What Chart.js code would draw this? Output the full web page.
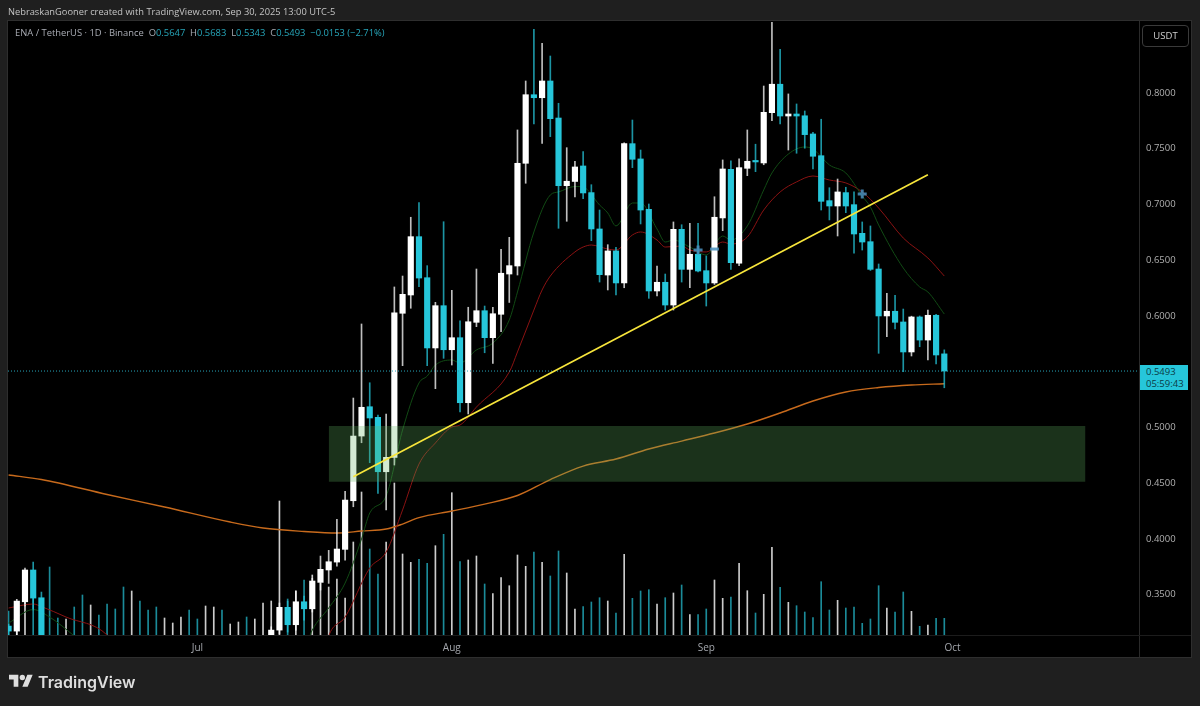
<!DOCTYPE html>
<html>
<head>
<meta charset="utf-8">
<script src="https://cdn.jsdelivr.net/npm/chart.js@4"></script>
<style>
  html, body { margin: 0; padding: 0; width: 1200px; height: 706px; overflow: hidden; background: #1f1f1f; }
  body { font-family: "Open Sans", Roboto, sans-serif; }
  #frame { position: absolute; left: 8px; top: 21px; width: 1183px; height: 636px; background: #000; outline: 1px solid #2e2e2e; }
  #axisLine { position: absolute; left: 1139px; top: 21px; width: 1px; height: 636px; background: #2a2a2a; }
  #timeLine { position: absolute; left: 8px; top: 635px; width: 1183px; height: 1px; background: #1c1c1c; }
  canvas { position: absolute; left: 0; top: 0; }
  .txt { position: absolute; white-space: pre; }
  #credit { left: 8px; top: 4px; font-size: 9.3px; line-height: 16px; color: #c4c4c4; }
  #legend { left: 15px; top: 26px; font-size: 9.4px; line-height: 14px; color: #a9acb4; }
  #legend b { font-weight: 400; color: #26a6ba; }
  #unit { left: 1142px; top: 25px; width: 45px; height: 20px; border: 1px solid #3a3a3a; border-radius: 4px; font-size: 9.5px; line-height: 20px; color: #d0d0d0; text-align: center; }
  #lastPrice { left: 1140px; top: 365px; width: 48px; height: 25px; background: #26c6da; color: #0b3a44; font-size: 9.5px; line-height: 11.5px; padding: 1px 0 0 6px; box-sizing: border-box; }
  #logo { position: absolute; left: 9px; top: 672px; }
  #brand { left: 38px; top: 671px; font-family: Inter, Roboto, sans-serif; font-size: 16px; font-weight: 600; line-height: 22px; color: #dedede; }
</style>
</head>
<body>
<div id="frame"></div>
<canvas id="chart" width="1200" height="706" style="width:1200px;height:706px"></canvas>
<div id="axisLine"></div>
<div id="timeLine"></div>
<div class="txt" id="credit">NebraskanGooner created with TradingView.com, Sep 30, 2025 13:00 UTC-5</div>
<div class="txt" id="legend">ENA / TetherUS · 1D · Binance  O<b>0.5647</b>  H<b>0.5683</b>  L<b>0.5343</b>  C<b>0.5493</b>  <b>−0.0153 (−2.71%)</b></div>
<div class="txt" id="unit">USDT</div>
<div class="txt" id="lastPrice">0.5493
05:59:43</div>
<svg id="logo" width="24" height="19" viewBox="0 0 36 28" fill="#dedede"><path d="M14 22H7V11H0V4h14v18zM28 22h-8l7.5-18h8L28 22z"/><circle cx="20" cy="8" r="4"/></svg>
<div class="txt" id="brand">TradingView</div>

<script>
// days are counted from Jul 1 (day 0), the first candle is Jun 8
const firstDay = -23;
const offChart = Array(27).fill(null); // Jun 13 - Jul 9 sits below the visible price range

const opens = [
  0.3206, 0.3161, 0.3424, 0.3709, 0.3460, ...offChart,
  0.3100, 0.3170, 0.3374, 0.3218, 0.3424, 0.3361, 0.3598, 0.3709, 0.3780, 0.3894,
  0.4330, 0.4910, 0.5173, 0.5078, 0.4590, 0.4719, 0.6011, 0.6175, 0.6698, 0.6330,
  0.5700, 0.6079, 0.5684, 0.5792, 0.5209, 0.5930, 0.6034, 0.5792, 0.6002, 0.6363,
  0.6435, 0.7356, 0.7971, 0.7944, 0.8094, 0.7762, 0.7155, 0.7193, 0.7332, 0.7093,
  0.6767, 0.6354, 0.6570, 0.6283, 0.7532, 0.7395, 0.6943, 0.6211, 0.6289, 0.6085,
  0.6764, 0.6405, 0.6540, 0.6393, 0.6283, 0.6866, 0.7302, 0.6460, 0.7311, 0.7374,
  0.7359, 0.7810, 0.8065, 0.7780, 0.7798, 0.7782, 0.7619, 0.7424, 0.7021, 0.6973,
  0.7093, 0.6985, 0.6728, 0.6653, 0.6408, 0.5987, 0.6029, 0.5933, 0.5664, 0.5978,
  0.5771, 0.5993, 0.5647
];
const highs = [
  0.3224, 0.3446, 0.3726, 0.3780, 0.3511, ...offChart,
  0.3200, 0.3413, 0.3430, 0.3523, 0.3475, 0.3634, 0.3834, 0.3885, 0.4163, 0.4414,
  0.5251, 0.5915, 0.5388, 0.5099, 0.5108, 0.6247, 0.6345, 0.6872, 0.7003, 0.6438,
  0.6109, 0.6832, 0.6217, 0.5944, 0.6065, 0.6408, 0.6076, 0.6065, 0.6585, 0.6692,
  0.7655, 0.8094, 0.8558, 0.8432, 0.8318, 0.7894, 0.7496, 0.7374, 0.7460, 0.7164,
  0.6937, 0.6626, 0.6603, 0.7540, 0.7744, 0.7475, 0.6991, 0.6435, 0.6363, 0.6830,
  0.6805, 0.6818, 0.6818, 0.6525, 0.7056, 0.7386, 0.7377, 0.7395, 0.7655, 0.7527,
  0.8049, 0.8750, 0.8379, 0.7978, 0.7888, 0.7825, 0.7634, 0.7751, 0.7137, 0.7215,
  0.7141, 0.7099, 0.6830, 0.6794, 0.6453, 0.6190, 0.6172, 0.6049, 0.5985, 0.5987,
  0.6040, 0.6002, 0.5683
];
const lows = [
  0.3120, 0.3117, 0.3386, 0.3350, 0.3000, ...offChart,
  0.3050, 0.3135, 0.3152, 0.3170, 0.3260, 0.3332, 0.3529, 0.3589, 0.3744, 0.3798,
  0.4276, 0.4850, 0.4671, 0.4396, 0.4247, 0.4650, 0.5541, 0.6056, 0.6249, 0.5541,
  0.5335, 0.5607, 0.5547, 0.5126, 0.5108, 0.5891, 0.5657, 0.5562, 0.5846, 0.6108,
  0.6354, 0.7177, 0.7709, 0.7535, 0.7595, 0.6773, 0.6836, 0.7054, 0.7039, 0.6662,
  0.6291, 0.6220, 0.6175, 0.6240, 0.7317, 0.6812, 0.6145, 0.6166, 0.6040, 0.6040,
  0.6291, 0.6240, 0.6381, 0.6076, 0.6270, 0.6752, 0.6405, 0.6438, 0.7245, 0.7281,
  0.7343, 0.7738, 0.7709, 0.7475, 0.7446, 0.7491, 0.7305, 0.6937, 0.6848, 0.6704,
  0.6913, 0.6549, 0.6578, 0.6395, 0.5652, 0.5801, 0.5870, 0.5487, 0.5628, 0.5711,
  0.5592, 0.5556, 0.5343
];
const closes = [
  0.3161, 0.3430, 0.3709, 0.3457, 0.3050, ...offChart,
  0.3170, 0.3374, 0.3218, 0.3424, 0.3361, 0.3610, 0.3715, 0.3783, 0.3897, 0.4336,
  0.4910, 0.5168, 0.5072, 0.4590, 0.4719, 0.6016, 0.6181, 0.6698, 0.6327, 0.5700,
  0.6079, 0.5684, 0.5792, 0.5209, 0.5935, 0.6034, 0.5792, 0.6007, 0.6370, 0.6438,
  0.7356, 0.7971, 0.7944, 0.8094, 0.7756, 0.7155, 0.7195, 0.7323, 0.7090, 0.6767,
  0.6357, 0.6570, 0.6283, 0.7532, 0.7392, 0.6937, 0.6211, 0.6289, 0.6085, 0.6764,
  0.6405, 0.6540, 0.6390, 0.6283, 0.6872, 0.7305, 0.6465, 0.7317, 0.7374, 0.7368,
  0.7813, 0.8065, 0.7780, 0.7798, 0.7780, 0.7613, 0.7419, 0.7015, 0.6973, 0.7099,
  0.6973, 0.6722, 0.6650, 0.6405, 0.5987, 0.6029, 0.5930, 0.5664, 0.5978, 0.5771,
  0.5993, 0.5637, 0.5493
];
// volume in arbitrary units
const volumes = [
  24, 12, 35, 40, 35, 68, 17, 16, 28, 40,
  30, 20, 31, 26, 48, 44, 34, 25, 28, 17,
  12, 18, 25, 16, 29, 28, 25, 11, 13, 18,
  16, 32, 34, 134, 36, 44, 55, 60, 52, 48,
  56, 37, 93, 143, 86, 61, 93, 152, 81, 72.7,
  75.7, 71.7, 89.3, 100.7, 142.3, 73.3, 75, 79, 51, 41.3,
  57.3, 49.3, 80, 68.7, 83, 72.7, 59, 84, 62, 26,
  28.3, 33, 37.3, 34, 22, 80.7, 36.7, 44, 45.3, 31,
  37.3, 42, 50, 20.3, 20.3, 26, 55, 36.7, 38, 71.7,
  44.3, 22, 40.7, 87.7, 47.7, 32.7, 29.3, 23, 17.3, 53.3,
  25, 34.7, 27, 28, 11.7, 16, 49.3, 27, 23, 43,
  23.7, 8.7, 10, 16.7, 16.7
];
// volume is up or down with the candle of that day; the hidden candles need it listed
const hiddenDown = [-18, -17, -15, -14, -12, -11, -10, -9, -7, -6, -5, -1, 0, 3, 6];

const orangeDays = [-23, -19, -11, -4, 4, 8, 13, 17, 20, 23, 25, 27, 31, 35, 39, 43, 47, 51, 55, 59, 63, 67, 71, 75, 79, 83, 87, 91];
const orangeValues = [0.4561, 0.4520, 0.4386, 0.4274, 0.4139, 0.4085, 0.4054, 0.4040, 0.4058, 0.4076, 0.4121, 0.4179, 0.4238, 0.4300, 0.4377, 0.4520, 0.4641, 0.4704, 0.4794, 0.4865, 0.4937, 0.5018, 0.5117, 0.5224, 0.5305, 0.5345, 0.5368, 0.5379];

const greenDays = [-23, -20, -18, -15, -10, 12, 14, 16, 18, 20, 21, 23, 25, 27, 28, 29, 31, 32, 34, 36, 38, 39, 41, 43, 44, 46, 47, 49, 50, 51, 53, 54, 56, 57, 58, 60, 62, 64, 65, 67, 69, 70, 72, 74, 75, 77, 79, 81, 82, 83, 86, 88, 89, 91];
const greenValues = [0.3233, 0.3354, 0.3287, 0.3117, 0.2800, 0.2800, 0.3170, 0.3368, 0.3592, 0.3987, 0.4220, 0.4372, 0.4964, 0.5386, 0.5448, 0.5547, 0.5592, 0.5565, 0.5682, 0.5744, 0.5951, 0.6202, 0.6740, 0.7072, 0.7099, 0.7148, 0.7143, 0.6982, 0.6910, 0.6794, 0.7000, 0.7000, 0.6767, 0.6650, 0.6668, 0.6605, 0.6534, 0.6704, 0.6668, 0.6794, 0.7117, 0.7269, 0.7439, 0.7502, 0.7484, 0.7341, 0.7269, 0.7063, 0.6964, 0.6803, 0.6417, 0.6247, 0.6202, 0.6004];

const redDays = [-23, -20, -19, -16, -11, -8, 15, 16, 18, 21, 23, 25, 27, 29, 31, 32, 34, 38, 39, 41, 42, 43, 46, 47, 48, 50, 51, 53, 54, 56, 57, 59, 60, 62, 64, 65, 67, 69, 71, 73, 75, 77, 79, 81, 83, 86, 89, 91];
const redValues = [0.3368, 0.3404, 0.3381, 0.3287, 0.3126, 0.2800, 0.2800, 0.3117, 0.3287, 0.3726, 0.3870, 0.4247, 0.4659, 0.4848, 0.4991, 0.5009, 0.5170, 0.5484, 0.5664, 0.6040, 0.6220, 0.6345, 0.6561, 0.6605, 0.6623, 0.6587, 0.6578, 0.6713, 0.6740, 0.6668, 0.6605, 0.6614, 0.6578, 0.6561, 0.6650, 0.6632, 0.6695, 0.6937, 0.7099, 0.7189, 0.7242, 0.7206, 0.7180, 0.7099, 0.6955, 0.6686, 0.6507, 0.6345];

const trendDays = [19, 89];
const trendValues = [0.4545, 0.7254];
const zoneDays = [16, 108.2];
const zoneTop = 0.5;
const zoneBottom = 0.45;
const lastClose = 0.5493;
const crossDays = [61, 81];
const crossValues = [0.6578, 0.7081];
const dashDays = [63];
const dashValues = [0.6587];

const priceTicks = [0.35, 0.4, 0.45, 0.5, 0.55, 0.6, 0.65, 0.7, 0.75, 0.8];
const tickDays = [0, 31, 62, 92];
const tickLabels = ['Jul', 'Aug', 'Sep', 'Oct'];

const viewDays = [-23.07, 114.72];
const viewPrices = [0.3126, 0.8623];
const volumeMax = 613;

const upColor = '#ffffff';
const downColor = '#26c6da';

function pairs(days, values) {
    return days.map((d, i) => ({ x: d, y: values[i] }));
}

function isUp(i) {
    if (opens[i] === null) return !hiddenDown.includes(firstDay + i);
    return closes[i] >= opens[i];
}

const wickData = [], bodyData = [], wickColors = [], bodyColors = [], volumeData = [], volumeColors = [];
volumes.forEach((v, i) => {
    const day = firstDay + i;
    volumeData.push({ x: day, y: v });
    volumeColors.push(isUp(i) ? 'rgba(255,255,255,0.8)' : 'rgba(38,198,218,0.7)');
    if (opens[i] === null) return;
    wickData.push({ x: day, y: [lows[i], highs[i]] });
    bodyData.push({ x: day, y: [Math.min(opens[i], closes[i]), Math.max(opens[i], closes[i])] });
    wickColors.push(isUp(i) ? 'rgba(255,255,255,0.75)' : 'rgba(38,198,218,0.75)');
    bodyColors.push(isUp(i) ? upColor : downColor);
});

function maLine(days, values, color, order, width) {
    return { type: 'line', data: pairs(days, values), borderColor: color, borderWidth: width, cubicInterpolationMode: 'monotone', pointRadius: 0, order: order, yAxisID: 'y' };
}

const ctx = document.getElementById('chart').getContext('2d');
new Chart(ctx, {
    type: 'bar',
    data: {
        datasets: [
            { data: volumeData, backgroundColor: volumeColors, barThickness: 1, yAxisID: 'yVol', order: 9, grouped: false },
            maLine(orangeDays, orangeValues, '#c76a1c', 8, 1.4),
            maLine(greenDays, greenValues, '#114a14', 7, 1),
            maLine(redDays, redValues, '#8a1212', 7, 1),
            { data: wickData, backgroundColor: wickColors, barThickness: 1, yAxisID: 'y', order: 6, grouped: false },
            { data: bodyData, backgroundColor: bodyColors, barThickness: 5.5, minBarLength: 1.5, yAxisID: 'y', order: 5, grouped: false },
            { type: 'line', data: pairs(zoneDays, [zoneTop, zoneTop]), borderWidth: 0, pointRadius: 0, fill: { value: zoneBottom }, backgroundColor: 'rgba(96,179,96,0.28)', order: 4, yAxisID: 'y' },
            { type: 'line', data: pairs(viewDays, [lastClose, lastClose]), borderColor: '#26a6ba', borderWidth: 1, borderDash: [1, 2], pointRadius: 0, order: 3, yAxisID: 'y' },
            { type: 'line', data: pairs(trendDays, trendValues), borderColor: '#f7e53b', borderWidth: 1.7, pointRadius: 0, order: 2, yAxisID: 'y' },
            { type: 'line', data: pairs(crossDays, crossValues), showLine: false, pointStyle: 'cross', pointRadius: 4.5, pointBorderColor: 'rgba(74,144,190,0.85)', pointBorderWidth: 3, order: 1, yAxisID: 'y' },
            { type: 'line', data: pairs(dashDays, dashValues), showLine: false, pointStyle: 'line', pointRadius: 4.5, pointBorderColor: 'rgba(74,144,190,0.85)', pointBorderWidth: 3, order: 1, yAxisID: 'y' }
        ]
    },
    options: {
        responsive: false,
        animation: false,
        events: [],
        layout: { padding: { left: 8, top: 22, right: 9, bottom: 49 } },
        plugins: { legend: { display: false }, tooltip: { enabled: false } },
        scales: {
            x: {
                type: 'linear',
                offset: false,
                min: viewDays[0],
                max: viewDays[1],
                grid: { display: false, drawTicks: false },
                border: { display: false },
                afterFit: s => { s.height = 22; },
                afterBuildTicks: s => { s.ticks = tickDays.map(d => ({ value: d })); },
                ticks: {
                    autoSkip: false,
                    maxRotation: 0,
                    padding: 7,
                    color: '#a4a7ad',
                    font: { family: 'Open Sans', size: 10 },
                    callback: value => tickLabels[tickDays.indexOf(value)]
                }
            },
            y: {
                position: 'right',
                min: viewPrices[0],
                max: viewPrices[1],
                grid: { display: false, drawTicks: false },
                border: { display: false },
                afterFit: s => { s.width = 52; },
                afterBuildTicks: s => { s.ticks = priceTicks.map(v => ({ value: v })); },
                ticks: {
                    padding: 7,
                    labelOffset: 1.5,
                    color: '#b0b0b0',
                    font: { family: 'Open Sans', size: 9.5 },
                    callback: value => value.toFixed(4)
                }
            },
            yVol: { display: false, min: 0, max: volumeMax }
        }
    }
});
</script>
</body>
</html>
